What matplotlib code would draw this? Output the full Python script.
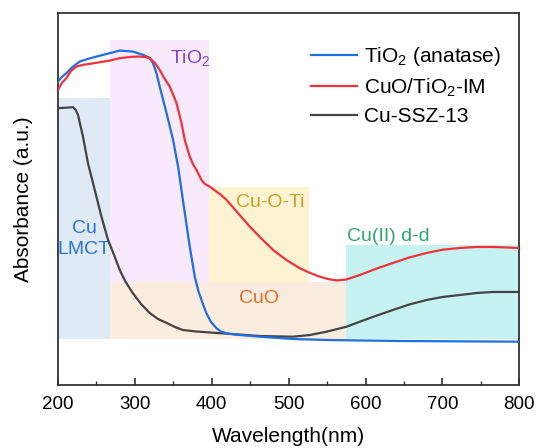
import numpy as np
import matplotlib
matplotlib.use('Agg')
import matplotlib.pyplot as plt

plt.rcParams['font.family'] = 'Liberation Sans'
plt.rcParams['mathtext.fontset'] = 'custom'
plt.rcParams['mathtext.rm'] = 'Liberation Sans'
plt.rcParams['mathtext.it'] = 'Liberation Sans:italic'

# TiO2 (anatase)
wl_tio2 = [200, 205, 210.9, 219, 228.2, 240, 250, 267.3, 280.3, 297.6, 310.6, 319.3, 323.6,
           328, 332.3, 341.1, 349.7, 356.2, 360.6, 364.9, 371.4, 377.9, 382.2, 388,
           393.1, 399, 406.2, 412, 419.2, 428, 436.5, 462.5, 505.5, 549.7, 644.7, 799.6]
abs_tio2 = [3.033, 3.08, 3.117, 3.18, 3.233, 3.262, 3.283, 3.317, 3.343, 3.333, 3.30, 3.27, 3.217,
            3.12, 2.983, 2.72, 2.45, 2.183, 1.95, 1.72, 1.383, 1.083, 0.95, 0.82,
            0.717, 0.63, 0.567, 0.535, 0.517, 0.507, 0.50, 0.483, 0.46, 0.45, 0.44, 0.433]

# CuO/TiO2-IM
wl_cuo = [200, 205, 210.9, 217, 223.9, 232, 241.3, 267.3, 280.3, 295, 306.3, 313, 319.3,
          326, 332.3, 338, 345.4, 354.1, 360.6, 364.9, 371.4, 375.5, 380.1, 386.6, 391,
          397.4, 405, 412, 419.2, 434, 449.5, 465, 479.8, 497, 514.5, 528, 540.5, 552,
          563, 575, 592.7, 613, 635.6, 657, 679.5, 700, 722.8, 745, 765.8, 799.6]
abs_cuo = [2.95, 3.02, 3.067, 3.14, 3.183, 3.20, 3.21, 3.243, 3.267, 3.28, 3.283, 3.28, 3.267,
           3.22, 3.15, 3.07, 2.983, 2.82, 2.62, 2.45, 2.283, 2.21, 2.15, 2.05, 2.01,
           1.983, 1.94, 1.90, 1.85, 1.72, 1.583, 1.46, 1.35, 1.25, 1.167, 1.12, 1.083, 1.058,
           1.045, 1.055, 1.10, 1.16, 1.22, 1.275, 1.32, 1.352, 1.37, 1.38, 1.38, 1.37]

# Cu-SSZ-13
wl_ssz = [200, 210, 219.5, 223, 226, 229, 232.5, 239, 247.8, 256.5, 265.1, 273.8, 280.3,
          288, 297.2, 308, 319.3, 330, 341.5, 352, 362.3, 380, 406.5, 435, 462.5, 505.5,
          528, 549.3, 575.4, 592.7, 613, 635.6, 657, 679.5, 700, 722.8, 745, 765.8, 799.6]
abs_ssz = [2.767, 2.772, 2.777, 2.75, 2.70, 2.60, 2.483, 2.217, 1.95, 1.683, 1.45, 1.283, 1.15,
           1.03, 0.92, 0.81, 0.72, 0.66, 0.62, 0.58, 0.55, 0.535, 0.52, 0.505, 0.49, 0.483,
           0.50, 0.533, 0.583, 0.633, 0.69, 0.75, 0.805, 0.85, 0.88, 0.90, 0.92, 0.93, 0.93]

# shaded regions: (x0, x1, y0, y1, colour, label, label colour, label x, label y)
regions = [
    (200, 267, 0.46, 2.87, '#dfeaf5', 'Cu\nLMCT', '#2a73d8', 234, 1.46),
    (267, 397, 1.03, 3.45, '#f8eafc', 'TiO$_2$', '#8a3fc7', 372, 3.27),
    (397, 526, 1.03, 1.98, '#fdf3d3', 'Cu-O-Ti', '#c9a020', 476, 1.82),
    (267, 575, 0.46, 1.03, '#fbece0', 'CuO', '#f26a1b', 461, 0.86),
    (575, 800, 0.46, 1.395, '#c6f3f2', 'Cu(II) d-d', '#2ea86a', 629, 1.48),
]

fig = plt.figure(figsize=(5.37, 4.48), dpi=100)
ax = fig.add_axes([0.108, 0.1406, 0.859, 0.830])

for x0, x1, y0, y1, c, lab, lc, tx, ty in regions:
    ax.fill_between([x0, x1], y0, y1, color=c, lw=0, zorder=0)
    ax.text(tx, ty, lab, color=lc, fontsize=14, ha='center', va='center',
            linespacing=1.25, zorder=1)

ax.plot(wl_tio2, abs_tio2, color='#1f6fe0', lw=1.6, label='TiO$_2$ (anatase)', zorder=3)
ax.plot(wl_cuo, abs_cuo, color='#f0333a', lw=1.6, label='CuO/TiO$_2$-IM', zorder=3)
ax.plot(wl_ssz, abs_ssz, color='#444444', lw=1.6, label='Cu-SSZ-13', zorder=2)

ax.set_xlim(200, 800)
ax.set_ylim(0, 3.717)
ax.set_xticks([200, 300, 400, 500, 600, 700, 800])
ax.set_xticks([250, 350, 450, 550, 650, 750], minor=True)
ax.set_yticks([])
ax.tick_params(axis='x', which='major', direction='in', length=5, width=1.2,
               labelsize=13.5, pad=8, color='#333333')
ax.tick_params(axis='x', which='minor', direction='in', length=3, width=1.0,
               color='#333333')
for s in ax.spines.values():
    s.set_linewidth(1.3)
    s.set_color('#333333')

ax.set_xlabel('Wavelength(nm)', fontsize=15, labelpad=10)
ax.set_ylabel('Absorbance (a.u.)', fontsize=15, labelpad=18)

ax.legend(loc='upper right', frameon=False, fontsize=15, handlelength=2.2,
          handletextpad=0.35, labelspacing=0.4, bbox_to_anchor=(1.002, 0.965))

fig.savefig('out.png', dpi=100)
